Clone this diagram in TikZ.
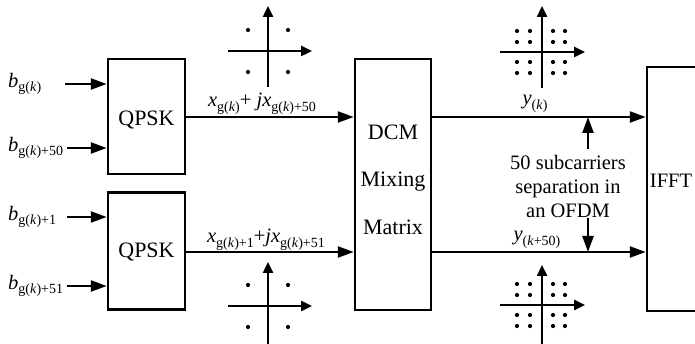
\documentclass[tikz,border=0pt]{standalone}
\usepackage{fontspec}
\setmainfont{Liberation Serif}
\usetikzlibrary{arrows.meta}
\newcommand{\sbs}[1]{\raisebox{-0.5ex}{\fontsize{14}{14}\selectfont #1}}
\begin{document}
\begin{tikzpicture}[x=1pt,y=-1pt,
  blk/.style={draw, line width=2.5pt, inner sep=0pt, fill=white},
  arr/.style={line width=2.4pt, -{Triangle[length=16pt,width=11pt]}},
  axs/.style={line width=2.4pt, -{Triangle[length=11pt,width=10pt]}},
  lbl/.style={inner sep=0pt, font=\fontsize{20.5}{24}\selectfont},
  blbl/.style={inner sep=0pt, font=\fontsize{22}{24}\selectfont}]
\useasboundingbox (0,0) rectangle (695,344);
% blocks
\node[blk, minimum width=77pt, minimum height=115pt] (q1) at (146.5,116.5) {};
\node[blbl] at (146.5,120) {QPSK};
\node[blk, minimum width=77pt, minimum height=117pt] (q2) at (146.5,251) {};
\node[blbl] at (146.5,252) {QPSK};
\node[blk, minimum width=76pt, minimum height=251pt] (dcm) at (393,184.5) {};
\node[blbl] (t1) at (393,132) {DCM};
\node[blbl] (t2) at (393,182) {Mixing};
\node[blbl] (t3) at (393,227) {Matrix};
\node[blk, minimum width=86pt, minimum height=244pt] (ifft) at (690,189) {};
\node[lbl] (t4) at (671,181) {IFFT};
% inputs
\coordinate (i1) at (65,84);
\coordinate (i2) at (67,148);
\coordinate (i3) at (67,217);
\coordinate (i4) at (67,286);
\node[lbl, anchor=west] (b1) at (8,84) {\textit{b}\sbs{g(\textit{k})}};
\node[lbl, anchor=west] (b2) at (8,148) {\textit{b}\sbs{g(\textit{k})+50}};
\node[lbl, anchor=west] (b3) at (8,217) {\textit{b}\sbs{g(\textit{k})+1}};
\node[lbl, anchor=west] (b4) at (8,286) {\textit{b}\sbs{g(\textit{k})+51}};
\draw[arr] (i1) -- (i1 -| q1.west);
\draw[arr] (i2) -- (i2 -| q1.west);
\draw[arr] (i3) -- (i3 -| q2.west);
\draw[arr] (i4) -- (i4 -| q2.west);
% QPSK to DCM
\coordinate (o1) at (185,117);
\coordinate (o2) at (185,252);
\draw[arr] (o1) -- (o1 -| dcm.west);
\draw[arr] (o2) -- (o2 -| dcm.west);
\node[lbl] (x1) at (262,104) {\textit{x}\sbs{g(\textit{k})}+ \textit{jx}\sbs{g(\textit{k})+50}};
\node[lbl] (x2) at (266,240) {\textit{x}\sbs{g(\textit{k})+1}+\textit{jx}\sbs{g(\textit{k})+51}};
% DCM to IFFT
\coordinate (d1) at (431,117);
\coordinate (d2) at (431,252);
\draw[arr] (d1) -- (d1 -| ifft.west);
\draw[arr] (d2) -- (d2 -| ifft.west);
\node[lbl] (y1) at (535,104) {\textit{y}\sbs{(\textit{k})}};
\node[lbl] (y2) at (537,240) {\textit{y}\sbs{(\textit{k}+50)}};
% separation note
\node[lbl, align=center] (note) at (568,186) {50 subcarriers\\separation in\\an OFDM};
\coordinate (u0) at (588,149);
\coordinate (u1) at (588,218);
\draw[arr] (u0) -- (u0 |- d1);
\draw[arr] (u1) -- (u1 |- d2);
% QPSK constellations
\foreach \cx/\cy/\ya/\yb in {268/51/87/6, 268/306/344/262}{
  \draw[axs] (\cx,\ya) -- (\cx,\yb);
  \draw[axs] (\cx-40,\cy) -- (\cx+44,\cy);
  \foreach \dx in {-20,20}{\foreach \dy in {-21,21}{
    \fill (\cx+\dx,\cy+\dy) circle (2.1pt);}}
}
% 16QAM constellations
\foreach \cx/\cy/\ya/\yb in {542/52/88/6, 542/305/344/265}{
  \draw[axs] (\cx,\ya) -- (\cx,\yb);
  \draw[axs] (\cx-42,\cy) -- (\cx+43,\cy);
  \foreach \dx in {-25,-12,11,23}{\foreach \dy in {-21,-10,10,21}{
    \fill (\cx+\dx,\cy+\dy) circle (2.1pt);}}
}
\end{tikzpicture}
\end{document}
